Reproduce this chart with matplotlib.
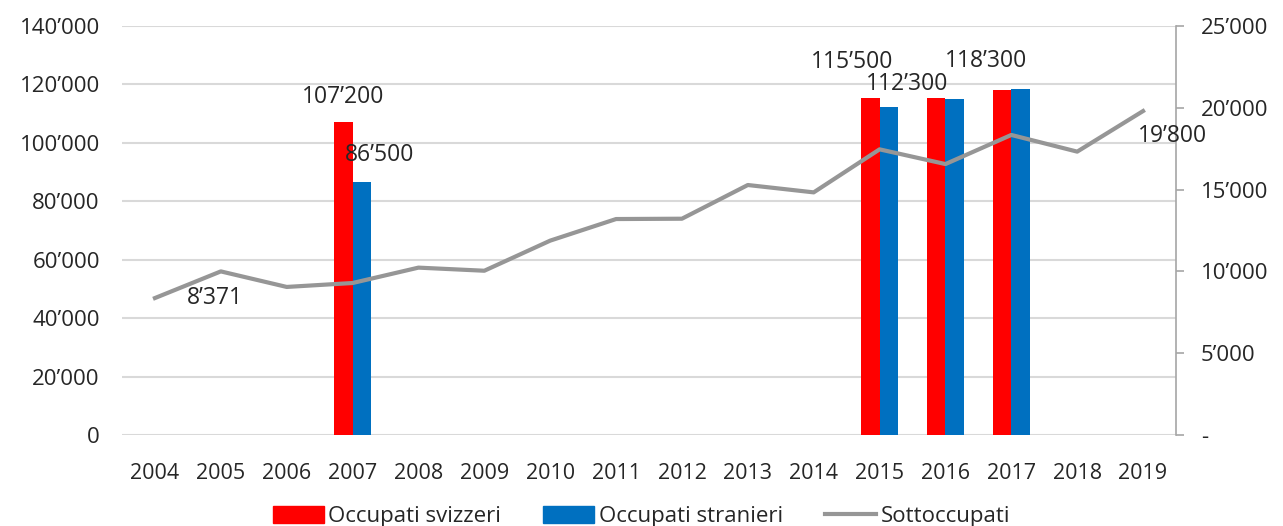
import matplotlib
matplotlib.use("Agg")
from matplotlib import pyplot as plt
from matplotlib.patches import Patch
from matplotlib.lines import Line2D
from matplotlib.ticker import FuncFormatter, MultipleLocator
import numpy as np

years = [str(y) for y in range(2004, 2020)]
svizzeri = [None, None, None, 107200, None, None, None, None, None, None, None,
            115500, 115300, 118000, None, None]
stranieri = [None, None, None, 86500, None, None, None, None, None, None, None,
             112300, 114900, 118300, None, None]
sottoccupati = [8371, 10000, 9050, 9290, 10230, 10040, 11880, 13200, 13220,
                15280, 14830, 17460, 16560, 18340, 17320, 19800]

RED = "#ff0000"
BLUE = "#0070c0"
GREY = "#969696"
TXT = "#262626"

plt.rcParams["font.family"] = ["Open Sans", "DejaVu Sans"]

def fmt(v, pos=None):
    return f"{v:,.0f}".replace(",", "\u2019")

def fmt_right(v, pos=None):
    return "-" if v == 0 else fmt(v)

fig = plt.figure(figsize=(12.83, 5.26), dpi=100)
ax = fig.add_axes([0.0951, 0.173, 0.8215, 0.7776])
ax2 = ax.twinx()

x = np.arange(len(years))
w = 0.28
for i in range(len(years)):
    if svizzeri[i] is not None:
        ax.bar(x[i] - w / 2, svizzeri[i], w, color=RED, zorder=2)
    if stranieri[i] is not None:
        ax.bar(x[i] + w / 2, stranieri[i], w, color=BLUE, zorder=2)

ax.set_xlim(-0.5, len(years) - 0.5)
ax.set_ylim(0, 140000)
ax.yaxis.set_major_locator(MultipleLocator(20000))
ax.yaxis.set_major_formatter(FuncFormatter(fmt))
ax.set_xticks(x)
ax.set_xticklabels(years)
ax.grid(axis="y", color="#d9d9d9", linewidth=1.5, zorder=0)
ax.set_axisbelow(True)
for s in ["top", "left", "right", "bottom"]:
    ax.spines[s].set_visible(False)
ax.tick_params(axis="y", length=0, labelsize=16, colors=TXT, pad=16)
ax.tick_params(axis="x", length=0, labelsize=15.5, colors=TXT, pad=20)

ax2.plot(x, sottoccupati, color=GREY, linewidth=3, zorder=3)
ax2.set_ylim(0, 25000)
ax2.yaxis.set_major_locator(MultipleLocator(5000))
ax2.yaxis.set_major_formatter(FuncFormatter(fmt_right))
for s in ["top", "left", "bottom"]:
    ax2.spines[s].set_visible(False)
ax2.spines["right"].set_color("#a6a6a6")
ax2.spines["right"].set_linewidth(1.2)
ax2.tick_params(axis="y", direction="out", length=6, width=1.2, color="#a6a6a6",
                labelsize=16, labelcolor=TXT, pad=12)

lab = dict(fontsize=16.5, color=TXT, ha="center", va="center",
           textcoords="offset pixels")
ax.annotate(fmt(svizzeri[3]), (x[3] - w / 2, svizzeri[3]), xytext=(0, 25), **lab)
ax.annotate(fmt(stranieri[3]), (x[3] + w / 2, stranieri[3]), xytext=(18, 27), **lab)
ax.annotate(fmt(svizzeri[11]), (x[11] - w / 2, svizzeri[11]), xytext=(-18, 36), **lab)
ax.annotate(fmt(stranieri[11]), (x[11] + w / 2, stranieri[11]), xytext=(18, 23), **lab)
ax.annotate(fmt(stranieri[13]), (x[13] + w / 2, stranieri[13]), xytext=(-34, 28), **lab)
ax2.annotate(fmt(sottoccupati[0]), (x[0], sottoccupati[0]), xytext=(60, 0), **lab)
ax2.annotate(fmt(sottoccupati[-1]), (x[-1], sottoccupati[-1]), xytext=(29, -25), **lab)

handles = [Patch(color=RED), Patch(color=BLUE),
           Line2D([0], [0], color=GREY, linewidth=3)]
fig.legend(handles, ["Occupati svizzeri", "Occupati stranieri", "Sottoccupati"],
           loc="center", bbox_to_anchor=(0.5, 0.018), ncol=3, frameon=False,
           fontsize=16, handlelength=2.3, handleheight=0.8, handletextpad=0.2,
           columnspacing=1.9, labelcolor=TXT)

fig.savefig("out.png", dpi=100)
